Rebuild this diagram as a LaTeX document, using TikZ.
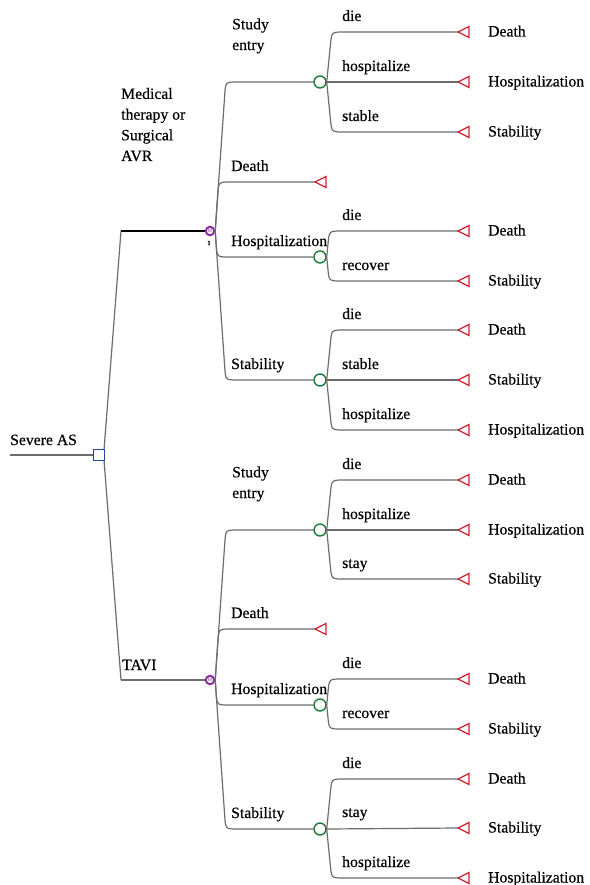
\documentclass[tikz,border=0pt]{standalone}
\usepackage{fontspec}
\setmainfont{Liberation Serif}[FakeBold=0.4]
\usetikzlibrary{calc}
\definecolor{brgray}{HTML}{6C6C6C}
\definecolor{chgreen}{HTML}{1E7B3C}
\definecolor{tmred}{HTML}{D42030}
\definecolor{mkpurple}{HTML}{8B2A9E}
\definecolor{dcblue}{HTML}{2442B0}
% curved tree branch: #1 start, #2 end, #3 slope, #4 corner radius, #5 style
\newcommand\tbr[5]{%
  \draw[#5] let \p1=(#1), \p2=(#2), \n1={abs(\y2-\y1)}, \n2={ifthenelse(\y2>\y1,1,-1)} in
    (\p1) -- ({\x1+#3*(\n1-#4)},{\y2-\n2*#4})
    .. controls ({\x1+#3*\n1},{\y2}) .. ({\x1+#3*\n1+#4},{\y2}) -- (\p2);}
% terminal: #1 name, #2 tip x, #3 y, #4 label
\newcommand\term[4]{%
  \coordinate (#1) at (#2,#3);
  \draw[tm] (#1) -- ++(11,-5.5) -- ++(0,11) -- cycle;
  \node[lab,anchor=base west] (#1l) at (488,#3+4.5) {#4};}
\newcommand\termx[3]{%
  \coordinate (#1) at (#2,#3);
  \draw[tm] (#1) -- ++(11,-5.5) -- ++(0,11) -- cycle;}
\begin{document}
\begin{tikzpicture}[x=1pt,y=-1pt,
  br/.style={draw=brgray,line width=1.2pt},
  sel/.style={draw=black,line width=2.6pt},
  tm/.style={draw=tmred,line width=1.3pt,fill=white},
  chance/.style={circle,draw=chgreen,line width=1.4pt,fill=white,minimum size=12pt,inner sep=0pt},
  markov/.style={circle,draw=mkpurple,line width=1.9pt,fill=white,minimum size=8.5pt,inner sep=0pt},
  dec/.style={rectangle,draw=dcblue,line width=1.4pt,fill=white,minimum size=11pt,inner sep=0pt},
  lab/.style={font=\fontsize{15.7}{20.7}\selectfont,inner sep=0pt,align=left},
  mlab/.style={font=\sffamily\fontsize{5}{5}\selectfont,text=mkpurple,inner sep=0pt},
]
\fill[white] (0,0) rectangle (589,885);
\useasboundingbox (0,0) rectangle (589,885);

% ---------- root ----------
\coordinate (R0) at (10,455);
\coordinate (K1) at (121,231);
\coordinate (K2) at (121,680);
\draw[br] (R0) -- (99,455);
\draw[br] (104,450) -- (K1);
\draw[br] (104,460) -- (K2);
\draw[sel] (K1) -- (206,231);
\draw[br] (K2) -- (206,680);
\node[dec] (D) at (99,455) {};
\node[lab,anchor=base west] (rootl) at (10,445) {Severe AS};
\node[lab,anchor=base west] (medl) at (121,161) {Medical\\therapy or\\Surgical\\AVR};
\node[lab,anchor=base west] (tavil) at (122,670) {TAVI};

% ---------- upper Markov subtree ----------
\node[chance] (C1) at (320,82) {};
\node[chance] (C2) at (320,257) {};
\node[chance] (C3) at (320,380) {};
\node[markov] (M1) at (210,231) {};
\node[mlab] at (M1) {M};
\node[font=\bfseries\fontsize{6.5}{6.5}\selectfont,inner sep=0pt] (M1n) at (209,243) {1};
\termx{md1}{315}{182}

\tbr{M1.east}{C1.west}{0.07}{12}{br}
\tbr{M1.east}{md1}{0.07}{12}{br}
\tbr{M1.east}{C2.west}{0.07}{12}{br}
\tbr{M1.east}{C3.west}{0.07}{12}{br}
\node[lab,anchor=base west] (l1a) at (232,50) {Study\\entry};
\node[lab,anchor=base west] (l1b) at (231,171) {Death};
\node[lab,anchor=base west] (l1c) at (231,246) {Hospitalization};
\node[lab,anchor=base west] (l1d) at (231,369) {Stability};

\term{t11}{458}{32}{Death}
\term{t12}{458}{82}{Hospitalization}
\term{t13}{458}{132}{Stability}
\tbr{C1.east}{t11}{0.1}{12}{br}
\draw[br] (C1.east) -- (t12);
\tbr{C1.east}{t13}{0.1}{12}{br}
\node[lab,anchor=base west] at (342,21) {die};
\node[lab,anchor=base west] at (342,71) {hospitalize};
\node[lab,anchor=base west] at (342,121) {stable};

\term{t21}{458}{231}{Death}
\term{t22}{458}{281}{Stability}
\tbr{C2.east}{t21}{0.1}{12}{br}
\tbr{C2.east}{t22}{0.1}{12}{br}
\node[lab,anchor=base west] at (342,220) {die};
\node[lab,anchor=base west] at (342,270) {recover};

\term{t31}{458}{330}{Death}
\term{t32}{458}{380}{Stability}
\term{t33}{458}{430}{Hospitalization}
\tbr{C3.east}{t31}{0.1}{12}{br}
\draw[br] (C3.east) -- (t32);
\tbr{C3.east}{t33}{0.1}{12}{br}
\node[lab,anchor=base west] at (342,319) {die};
\node[lab,anchor=base west] at (342,369) {stable};
\node[lab,anchor=base west] at (342,419) {hospitalize};

% ---------- lower Markov subtree ----------
\node[chance] (C4) at (320,530) {};
\node[chance] (C5) at (320,705) {};
\node[chance] (C6) at (320,829) {};
\node[markov] (M2) at (210,680) {};
\node[mlab] at (M2) {M};
\termx{md2}{315}{629}

\tbr{M2.east}{C4.west}{0.07}{12}{br}
\tbr{M2.east}{md2}{0.07}{12}{br}
\tbr{M2.east}{C5.west}{0.07}{12}{br}
\tbr{M2.east}{C6.west}{0.07}{12}{br}
\node[lab,anchor=base west] (l2a) at (232,498) {Study\\entry};
\node[lab,anchor=base west] (l2b) at (231,618) {Death};
\node[lab,anchor=base west] (l2c) at (231,694) {Hospitalization};
\node[lab,anchor=base west] (l2d) at (231,818) {Stability};

\term{t41}{458}{480}{Death}
\term{t42}{458}{530}{Hospitalization}
\term{t43}{458}{579}{Stability}
\tbr{C4.east}{t41}{0.1}{12}{br}
\draw[br] (C4.east) -- (t42);
\tbr{C4.east}{t43}{0.1}{12}{br}
\node[lab,anchor=base west] at (342,469) {die};
\node[lab,anchor=base west] at (342,519) {hospitalize};
\node[lab,anchor=base west] at (342,568) {stay};

\term{t51}{458}{679}{Death}
\term{t52}{458}{729}{Stability}
\tbr{C5.east}{t51}{0.1}{12}{br}
\tbr{C5.east}{t52}{0.1}{12}{br}
\node[lab,anchor=base west] at (342,668) {die};
\node[lab,anchor=base west] at (342,718) {recover};

\term{t61}{458}{779}{Death}
\term{t62}{458}{828}{Stability}
\term{t63}{458}{878}{Hospitalization}
\tbr{C6.east}{t61}{0.1}{12}{br}
\draw[br] (C6.east) -- (t62);
\tbr{C6.east}{t63}{0.1}{12}{br}
\node[lab,anchor=base west] at (342,768) {die};
\node[lab,anchor=base west] at (342,817) {stay};
\node[lab,anchor=base west] at (342,867) {hospitalize};
\end{tikzpicture}
\end{document}
